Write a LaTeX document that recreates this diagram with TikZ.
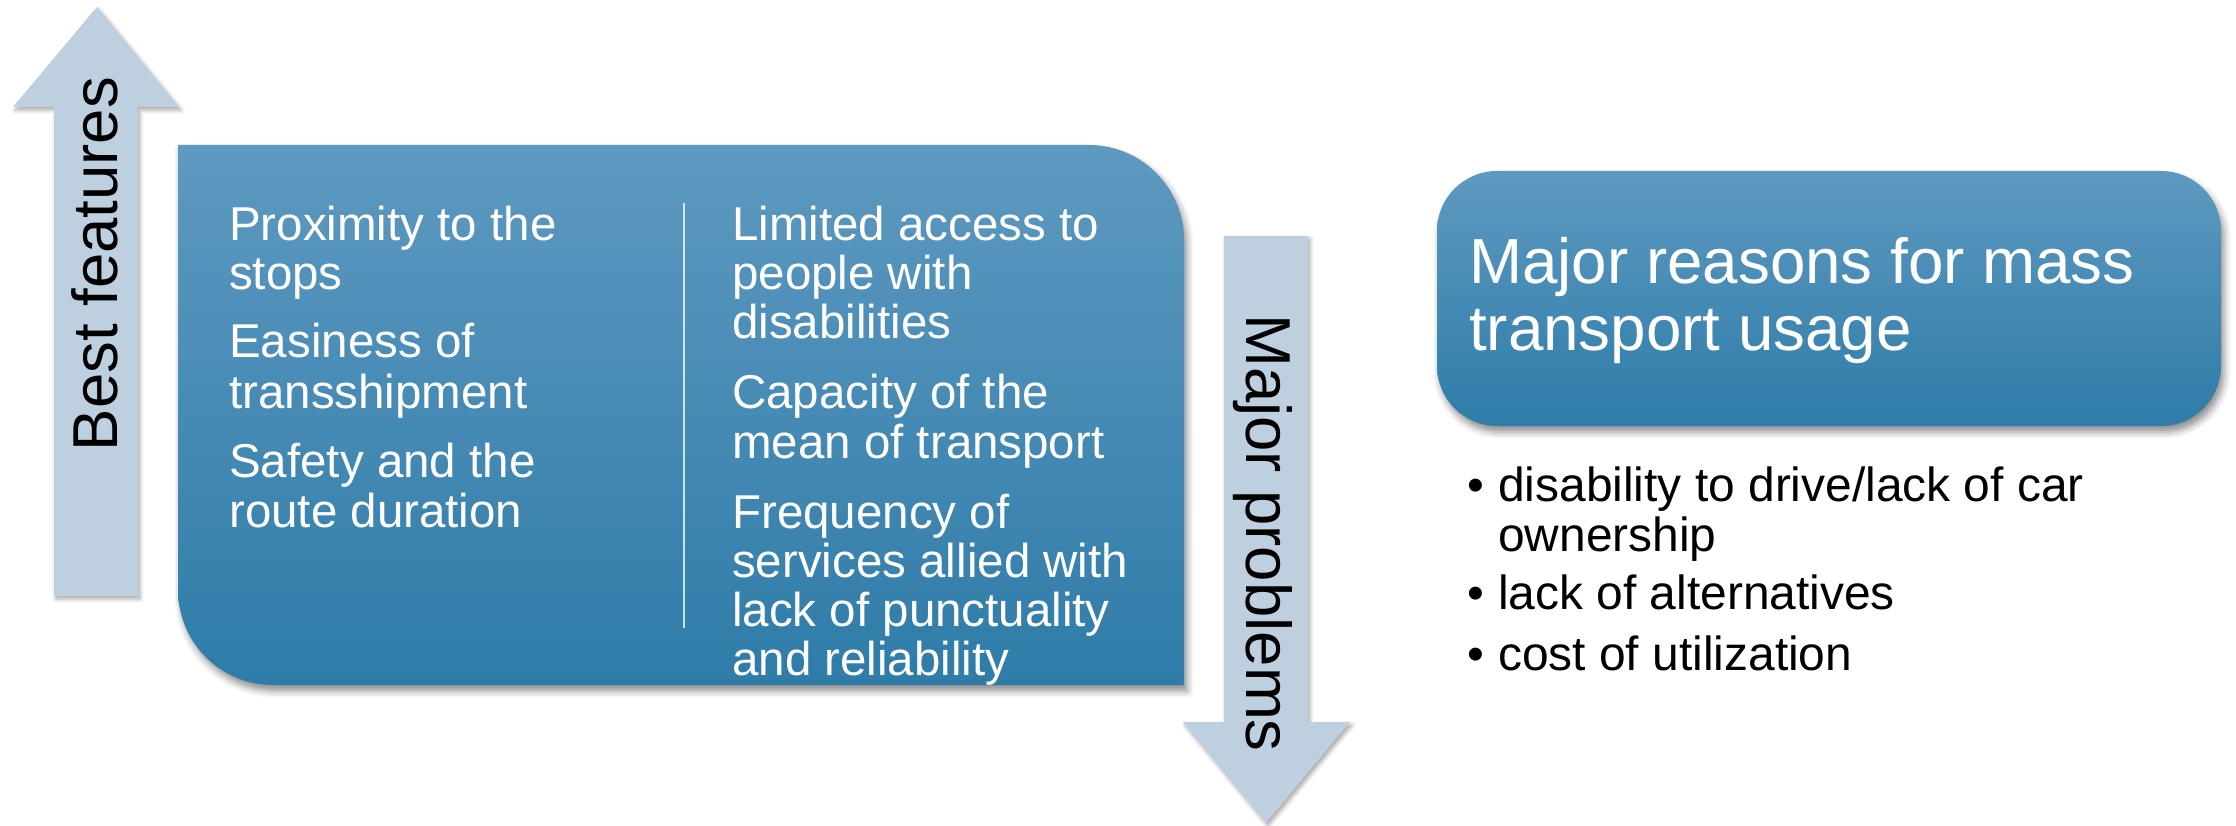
\documentclass[tikz,border=0pt]{standalone}
\usepackage{fontspec}
\setmainfont{Liberation Sans}
\usetikzlibrary{shadows.blur}
\definecolor{boxtop}{RGB}{94,153,192}
\definecolor{boxbot}{RGB}{46,124,168}
\definecolor{arrowfill}{RGB}{190,207,223}
\begin{document}
\begin{tikzpicture}[x=1pt,y=-1pt,
  panel/.style={top color=boxtop, bottom color=boxbot,
    blur shadow={shadow xshift=3pt, shadow yshift=-6pt, shadow blur radius=7pt, shadow opacity=45}},
  bigarrow/.style={fill=arrowfill,
    blur shadow={shadow xshift=2pt, shadow yshift=-3pt, shadow blur radius=4pt, shadow opacity=35}},
  boxtxt/.style={anchor=base west, inner sep=0pt, text=white, font=\fontsize{47.5}{50}\selectfont},
  arrowtxt/.style={anchor=base, inner sep=0pt, text=black, font=\fontsize{63.5}{66}\selectfont},
  titletxt/.style={anchor=base west, inner sep=0pt, text=white, font=\fontsize{63.7}{67}\selectfont},
  bullettxt/.style={anchor=base west, inner sep=0pt, text=black, font=\fontsize{47.9}{50}\selectfont}]
\useasboundingbox (0,0) rectangle (2236,826);

% up arrow
\path[bigarrow] (54,596) -- (54,107) -- (13,107) -- (97,7) -- (179,107) -- (138,107) -- (138,596) -- cycle;
\node[arrowtxt, rotate=90] (best) at (117,264) {Best features};

% big panel
\path[panel] (178,145) -- (1089,145)
  .. controls (1141.4,145) and (1184,187.6) .. (1184,240)
  -- (1184,685) -- (273,685)
  .. controls (220.6,685) and (178,642.4) .. (178,590) -- cycle;
\coordinate (divtop) at (684,203);
\coordinate (divbot) at (684,628);
\draw[white, opacity=0.75, line width=1.5pt] (divtop) -- (divbot);

\node[boxtxt] (l1) at (229,241) {Proximity to the};
\node[boxtxt] (l2) at (229,290) {stops};
\node[boxtxt] (l3) at (229,358) {Easiness of};
\node[boxtxt] (l4) at (229,408) {transshipment};
\node[boxtxt] (l5) at (229,477) {Safety and the};
\node[boxtxt] (l6) at (229,527) {route duration};

\node[boxtxt] (r1) at (732,241) {Limited access to};
\node[boxtxt] (r2) at (732,290) {people with};
\node[boxtxt] (r3) at (732,339) {disabilities};
\node[boxtxt] (r4) at (732,408) {Capacity of the};
\node[boxtxt] (r5) at (732,458) {mean of transport};
\node[boxtxt] (r6) at (732,528) {Frequency of};
\node[boxtxt] (r7) at (732,577) {services allied with};
\node[boxtxt] (r8) at (732,626) {lack of punctuality};
\node[boxtxt] (r9) at (732,675) {and reliability};

% down arrow
\path[bigarrow] (1224,236) -- (1308,236) -- (1308,722) -- (1350,722) -- (1266,823) -- (1183,722) -- (1224,722) -- cycle;
\node[arrowtxt, rotate=-90] (major) at (1246,533) {Major problems};

% right panel
\path[panel, rounded corners=60pt] (1437,171) rectangle (2221,426);
\node[titletxt] (t1) at (1469,284) {Major reasons for mass};
\node[titletxt] (t2) at (1469,351) {transport usage};

\node[bullettxt] (b1) at (1467,501) {•};
\node[bullettxt] (s1) at (1498,501) {disability to drive/lack of car};
\node[bullettxt] (s1b) at (1498,551) {ownership};
\node[bullettxt] (b2) at (1467,609) {•};
\node[bullettxt] (s2) at (1498,609) {lack of alternatives};
\node[bullettxt] (b3) at (1467,670) {•};
\node[bullettxt] (s3) at (1498,670) {cost of utilization};
\end{tikzpicture}
\end{document}
